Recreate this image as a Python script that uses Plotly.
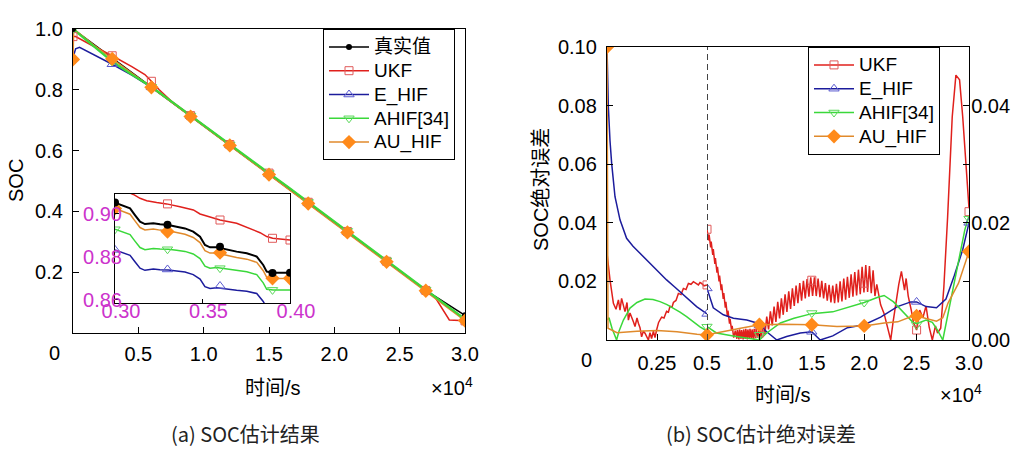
import plotly.graph_objects as go

# ---------------- data (time in units of 1e4 s) ----------------
# (a) SOC estimation results
T_MAIN = [0, 0.15, 0.3, 0.45, 0.6, 0.75, 0.9, 1.05, 1.2, 1.35, 1.5, 1.65, 1.8, 1.95, 2.1, 2.25, 2.4, 2.55, 2.7, 2.85, 3.0]
TRUE_SOC = [1.0, 0.952, 0.905, 0.858, 0.810, 0.762, 0.713, 0.666, 0.618, 0.570, 0.522, 0.475, 0.427, 0.380, 0.332, 0.284, 0.235, 0.188, 0.140, 0.099, 0.058]
AHIF_SOC = [1.0, 0.945, 0.893, 0.850, 0.810, 0.763, 0.715, 0.668, 0.620, 0.573, 0.526, 0.479, 0.431, 0.384, 0.336, 0.288, 0.239, 0.191, 0.142, 0.094, 0.046]
T_UKF = [0, 0.02, 0.15, 0.3, 0.45, 0.55, 0.6, 0.66, 0.75, 0.9, 1.05, 1.2, 1.35, 1.5, 1.65, 1.8, 1.95, 2.1, 2.25, 2.4, 2.55, 2.7, 2.77, 2.88, 3.0]
UKF_SOC = [0.975, 0.975, 0.945, 0.912, 0.876, 0.850, 0.828, 0.800, 0.764, 0.715, 0.667, 0.620, 0.572, 0.526, 0.478, 0.430, 0.382, 0.334, 0.285, 0.236, 0.188, 0.140, 0.118, 0.043, 0.040]
T_EHIF = [0, 0.02, 0.05, 0.15, 0.3, 0.45, 0.6, 0.75, 0.9, 1.05, 1.2, 1.35, 1.5, 1.65, 1.8, 1.95, 2.1, 2.25, 2.4, 2.55, 2.7, 2.85, 3.0]
EHIF_SOC = [0.905, 0.935, 0.940, 0.918, 0.884, 0.848, 0.808, 0.761, 0.713, 0.666, 0.618, 0.570, 0.522, 0.475, 0.427, 0.380, 0.332, 0.284, 0.235, 0.188, 0.139, 0.092, 0.045]
T_AU = [0, 0.005, 0.02, 0.15, 0.3, 0.45, 0.6, 0.75, 0.9, 1.05, 1.2, 1.35, 1.5, 1.65, 1.8, 1.95, 2.1, 2.25, 2.4, 2.55, 2.7, 2.85, 3.0]
AU_SOC = [0.90, 0.99, 0.995, 0.950, 0.902, 0.856, 0.808, 0.760, 0.712, 0.665, 0.617, 0.569, 0.521, 0.474, 0.426, 0.379, 0.331, 0.283, 0.234, 0.187, 0.139, 0.090, 0.041]

T_MARK = [0, 0.3, 0.6, 0.9, 1.2, 1.5, 1.8, 2.1, 2.4, 2.7, 3.0]
TRUE_MARK = [1.0, 0.905, 0.810, 0.713, 0.618, 0.522, 0.427, 0.332, 0.235, 0.140, 0.058]
UKF_MARK = [0.975, 0.912, 0.828, 0.715, 0.620, 0.526, 0.430, 0.334, 0.236, 0.140, 0.040]
EHIF_MARK = [0.905, 0.884, 0.808, 0.713, 0.618, 0.522, 0.427, 0.332, 0.235, 0.139, 0.045]
AHIF_MARK = [1.0, 0.893, 0.810, 0.715, 0.620, 0.526, 0.431, 0.336, 0.239, 0.142, 0.046]
AU_MARK = [0.90, 0.902, 0.808, 0.712, 0.617, 0.521, 0.426, 0.331, 0.234, 0.139, 0.041]

# inset (0.30 - 0.40)
T_IN = [0.300, 0.3047, 0.3086, 0.3114, 0.3143, 0.3171, 0.3219, 0.3257, 0.3305, 0.3352, 0.340, 0.3447,
        0.3486, 0.3514, 0.3543, 0.3581, 0.3629, 0.3695, 0.3753, 0.381, 0.3847, 0.3867, 0.3905, 0.400]
TRUE_IN = [0.9053, 0.9037, 0.9026, 0.8995, 0.8964, 0.8953, 0.8957, 0.8952, 0.8949, 0.8941, 0.8933, 0.8918,
           0.8894, 0.8856, 0.8845, 0.8845, 0.8836, 0.8825, 0.8817, 0.8802, 0.8763, 0.8732, 0.8727, 0.8727]
AU_IN = [0.9026, 0.9010, 0.8999, 0.8968, 0.8937, 0.8926, 0.8930, 0.8925, 0.8922, 0.8914, 0.8906, 0.8891,
         0.8867, 0.8829, 0.8818, 0.8818, 0.8809, 0.8798, 0.8790, 0.8775, 0.8736, 0.8705, 0.8700, 0.8700]
AHIF_IN = [0.8929, 0.8914, 0.8904, 0.8874, 0.8844, 0.8834, 0.8840, 0.8837, 0.8836, 0.8831, 0.8826, 0.8814,
           0.8793, 0.8757, 0.8748, 0.8751, 0.8746, 0.8737, 0.8731, 0.8718, 0.8680, 0.8650, 0.8646, 0.8647]
EHIF_IN = [0.8833, 0.8818, 0.8808, 0.8778, 0.8748, 0.8738, 0.8744, 0.8741, 0.8740, 0.8735, 0.8730, 0.8718,
           0.8697, 0.8662, 0.8654, 0.8657, 0.8651, 0.8645, 0.8641, 0.8630, 0.8593, 0.8564, 0.8561, 0.8562]
T_UKF_IN = [0.300, 0.3105, 0.3143, 0.3181, 0.3238, 0.3295, 0.3371, 0.3448, 0.3486, 0.3543, 0.360, 0.3695,
            0.3771, 0.3829, 0.3867, 0.3901, 0.400]
UKF_IN = [0.9125, 0.9091, 0.9073, 0.9062, 0.9053, 0.9047, 0.9034, 0.9019, 0.9000, 0.8985, 0.8972, 0.8957,
          0.8933, 0.8913, 0.8895, 0.8887, 0.8879]
T_IN_MARK = [0.30, 0.33, 0.36, 0.39, 0.40]
TRUE_IN_MARK = [0.9053, 0.8950, 0.8848, 0.8725, 0.8727]
UKF_IN_MARK = [0.9125, 0.9047, 0.8972, 0.8887, 0.8879]
AU_IN_MARK = [0.9026, 0.8918, 0.8820, 0.8701, 0.8701]
AHIF_IN_MARK = [0.8929, 0.8836, 0.8748, 0.8647]
EHIF_IN_MARK = [0.8833, 0.8742, 0.8665]

# (b) absolute error, section 0 - 0.5 (left axis)
UKF_L_T = [0, 0.015, 0.032, 0.045, 0.057, 0.065, 0.073, 0.082, 0.09, 0.1, 0.107, 0.115, 0.123, 0.132, 0.14,
           0.15, 0.157, 0.165, 0.173, 0.182, 0.19, 0.2, 0.207, 0.215, 0.223, 0.232, 0.24, 0.248, 0.258, 0.273,
           0.285, 0.298, 0.307, 0.315, 0.325, 0.332, 0.345, 0.357, 0.37, 0.382, 0.395, 0.407, 0.42, 0.432,
           0.445, 0.457, 0.465, 0.473, 0.485, 0.5]
UKF_L = [0.0296, 0.0205, 0.0125, 0.0105, 0.0137, 0.0102, 0.0142, 0.0118, 0.0097, 0.0128, 0.0068, 0.0092, 0.0080,
         0.0062, 0.0046, 0.0075, 0.0057, 0.0042, 0.0011, 0.0030, 0.0023, 0.0008, 0.0000, 0.0025, 0.0005, 0.0030,
         0.0008, 0.0034, 0.0060, 0.0078, 0.0075, 0.0098, 0.0095, 0.0115, 0.0112, 0.0128, 0.0135, 0.0159, 0.0155,
         0.0176, 0.0172, 0.0193, 0.0190, 0.0199, 0.0192, 0.0188, 0.0196, 0.0193, 0.0185, 0.0188]
EHIF_L_T = [0, 0.003, 0.0067, 0.015, 0.0233, 0.04, 0.065, 0.098, 0.13, 0.165, 0.2, 0.232, 0.265, 0.298, 0.34,
            0.382, 0.415, 0.448, 0.475, 0.5]
EHIF_L = [0.1, 0.092, 0.0796, 0.068, 0.0603, 0.0489, 0.041, 0.0347, 0.032, 0.0296, 0.0272, 0.025, 0.0228, 0.0205,
          0.018, 0.0154, 0.0134, 0.0114, 0.0101, 0.0089]
AHIF_L_T = [0, 0.01, 0.025, 0.04, 0.048, 0.06, 0.082, 0.1, 0.115, 0.15, 0.19, 0.23, 0.265, 0.3, 0.332, 0.365,
            0.398, 0.43, 0.465, 0.5]
AHIF_L = [0.0068, 0.0076, 0.0040, 0.0010, 0.0000, 0.0030, 0.0068, 0.0090, 0.0109, 0.0128, 0.0140, 0.0138, 0.0131,
          0.0121, 0.0109, 0.0095, 0.0080, 0.0062, 0.0045, 0.0030]
AU_L_T = [0, 0.002, 0.005, 0.05, 0.15, 0.25, 0.35, 0.45, 0.5]
AU_L = [0.1, 0.05, 0.004, 0.0025, 0.003, 0.0032, 0.0028, 0.002, 0.0017]
UKF_LM_T, UKF_LM = [0.5], [0.0188]
EHIF_LM_T, EHIF_LM = [0.5], [0.0089]
AHIF_LM_T, AHIF_LM = [0.5], [0.0045]
AU_LM_T, AU_LM = [0, 0.5], [0.1, 0.0017]

# (b) section 0.5 - 3.0 (right axis)
UKF_R_T = [0.500, 0.515, 0.520, 0.535, 0.540, 0.555, 0.560, 0.575, 0.580, 0.595, 0.600, 0.615, 0.620, 0.635,
           0.640, 0.655, 0.660, 0.675, 0.680, 0.695, 0.700, 0.715, 0.720, 0.735, 0.740, 0.755,
           0.770, 0.785, 0.790, 0.805, 0.810, 0.825, 0.830, 0.845, 0.850, 0.865, 0.870, 0.885, 0.890, 0.905,
           0.910, 0.925, 0.930, 0.945, 0.950, 0.965, 0.970, 0.985,
           1.000, 1.0175, 1.035, 1.0525, 1.070, 1.0875, 1.105, 1.1225, 1.140, 1.1575, 1.175, 1.1925, 1.210,
           1.2275, 1.245, 1.2625, 1.280, 1.2975, 1.315, 1.3325, 1.350, 1.3675, 1.385, 1.4025, 1.420, 1.4375,
           1.455, 1.4725, 1.490, 1.5075, 1.525, 1.5425, 1.560, 1.5775, 1.595, 1.6125, 1.630, 1.6475, 1.665,
           1.6825, 1.700, 1.7175, 1.735, 1.7525, 1.770, 1.7875, 1.805, 1.8225, 1.840, 1.8575, 1.875, 1.8925,
           1.910, 1.9275, 1.945, 1.9625, 1.980, 1.9975, 2.015, 2.0325, 2.050, 2.0675, 2.085, 2.1025, 2.120,
           2.157, 2.190, 2.220, 2.253, 2.275, 2.300, 2.330, 2.355, 2.370, 2.385, 2.400, 2.420, 2.450, 2.470,
           2.500, 2.530, 2.560, 2.590, 2.620, 2.650, 2.680, 2.700, 2.730, 2.760, 2.796, 2.840, 2.875, 2.910,
           2.940, 2.975, 3.000]
UKF_R = [0.0189, 0.0170, 0.0180, 0.0158, 0.0168, 0.0145, 0.0155, 0.0130, 0.0140, 0.0115, 0.0125, 0.0100, 0.0110,
         0.0085, 0.0095, 0.0070, 0.0080, 0.0055, 0.0065, 0.0040, 0.0050, 0.0028, 0.0036, 0.0016, 0.0024, 0.0004,
         0.0016, 0.0002, 0.0017, 0.0001, 0.0018, 0.0002, 0.0017, 0.0001, 0.0018, 0.0002, 0.0019, 0.0001, 0.0018,
         0.0002, 0.0019, 0.0002, 0.0018, 0.0001, 0.0019, 0.0003, 0.0020, 0.0004,
         0.0021, 0.0003, 0.0030, 0.0010, 0.0040, 0.0018, 0.0049, 0.0025, 0.0057, 0.0031, 0.0065, 0.0037, 0.0071,
         0.0043, 0.0078, 0.0048, 0.0083, 0.0053, 0.0088, 0.0058, 0.0093, 0.0063, 0.0097, 0.0067, 0.0101, 0.0071,
         0.0104, 0.0074, 0.0107, 0.0075, 0.0107, 0.0075, 0.0105, 0.0073, 0.0101, 0.0071, 0.0097, 0.0067, 0.0094,
         0.0064, 0.0093, 0.0063, 0.0096, 0.0064, 0.0100, 0.0066, 0.0105, 0.0069, 0.0108, 0.0072, 0.0112, 0.0074,
         0.0116, 0.0076, 0.0120, 0.0078, 0.0125, 0.0081, 0.0128, 0.0082, 0.0126, 0.0080, 0.0119, 0.0075, 0.0095,
         0.0060, 0.0045, 0.0022, 0.0000, 0.0030, 0.0063, 0.0095, 0.0117, 0.0098, 0.0085, 0.0105, 0.0075, 0.0050,
         0.0030, 0.0017, 0.0051, 0.0038, 0.0058, 0.0022, 0.0000, 0.0024, 0.0012, 0.0020, 0.0090, 0.0210, 0.0381,
         0.0452, 0.0444, 0.0381, 0.0296, 0.0225]
EHIF_R_T = [0.5, 0.56, 0.656, 0.752, 0.88, 0.976, 1.07, 1.166, 1.26, 1.39, 1.5, 1.58, 1.7, 1.84, 2.0, 2.157,
            2.317, 2.445, 2.5, 2.59, 2.69, 2.78, 2.86, 2.94, 3.0]
EHIF_R = [0.0088, 0.0055, 0.0043, 0.0037, 0.0034, 0.0029, 0.0014, 0.0000, 0.0006, 0.0012, 0.0014, 0.0000, 0.0007,
          0.0021, 0.0026, 0.0039, 0.0057, 0.0065, 0.0065, 0.0057, 0.0055, 0.0070, 0.0110, 0.0154, 0.0200]
AHIF_R_T = [0.5, 0.59, 0.75, 0.88, 1.0, 1.07, 1.2, 1.33, 1.5, 1.7, 1.84, 2.0, 2.13, 2.19, 2.28, 2.38, 2.46, 2.5,
            2.59, 2.65, 2.7, 2.75, 2.82, 2.9, 2.96, 3.0]
AHIF_R = [0.0023, 0.0012, 0.0007, 0.0003, 0.0000, 0.0012, 0.0029, 0.0037, 0.0045, 0.0048, 0.0055, 0.0064, 0.0073,
          0.0076, 0.0065, 0.0046, 0.0031, 0.0028, 0.0034, 0.0030, 0.0017, 0.0000, 0.0063, 0.0137, 0.0188, 0.0212]
AU_R_T = [0.5, 0.63, 0.82, 1.0, 1.22, 1.5, 1.74, 2.0, 2.19, 2.32, 2.45, 2.5, 2.59, 2.69, 2.75, 2.8, 2.9, 2.96, 3.0]
AU_R = [0.0009, 0.0014, 0.0020, 0.0026, 0.0027, 0.0026, 0.0023, 0.0024, 0.0029, 0.0031, 0.0040, 0.0041, 0.0037,
        0.0032, 0.0038, 0.0063, 0.0097, 0.0131, 0.0151]
T_R_MARK = [0.5, 1.0, 1.5, 2.0, 2.5, 3.0]
UKF_RM = [0.0189, 0.0012, 0.0102, 0.0097, 0.0017, 0.0219]
EHIF_RM = [0.0088, 0.0025, 0.0014, 0.0026, 0.0065, 0.0200]
AHIF_RM = [0.0023, 0.0009, 0.0046, 0.0064, 0.0026, 0.0207]
AU_RM = [0.0009, 0.0026, 0.0026, 0.0024, 0.0041, 0.0151]
BREAK_T = 0.5

# tick labels
MAIN_X_TICKS = [0.5, 1.0, 1.5, 2.0, 2.5, 3.0]
MAIN_Y_TICKS = [0.2, 0.4, 0.6, 0.8, 1.0]
IN_X_TICKS = [0.30, 0.35, 0.40]
IN_Y_TICKS = [0.86, 0.88, 0.90]
ERR_L_X_TICKS = [0.25, 0.5]
ERR_R_X_TICKS = [1.0, 1.5, 2.0, 2.5, 3.0]
ERR_L_Y_TICKS = [0.02, 0.04, 0.06, 0.08, 0.10]
ERR_R_Y_TICKS = [0.00, 0.02, 0.04]

NAMES = ["真实值", "UKF", "E_HIF", "AHIF[34]", "AU_HIF"]

# ---------------- styling ----------------
W, H = 1025, 465
FONT = "Arial, 'Liberation Sans', 'Noto Sans CJK SC', sans-serif"
CAP_FONT = "'Liberation Sans Narrow', 'Arial Narrow', 'Noto Sans CJK SC', sans-serif"
MAG = "#cc33cc"
C = {
    "true": dict(line="black", mk=dict(symbol="circle", size=6, color="black")),
    "ukf": dict(line="#e0201c", mk=dict(symbol="square-open", size=8, color="#e05a5a", line=dict(width=1))),
    "ehif": dict(line="#1c1c9c", mk=dict(symbol="triangle-up-open", size=9, color="#5a5ad0", line=dict(width=1))),
    "ahif": dict(line="#3ad83a", mk=dict(symbol="triangle-down-open", size=9, color="#5ad85a", line=dict(width=1))),
    "au": dict(line="#e08a2c", mk=dict(symbol="diamond", size=11, color="#ff8a1a")),
}


def X(p):
    return p / W


def Y(p):
    return 1 - p / H


fig = go.Figure()


def line(x, y, key, xa, ya, width=1.5):
    fig.add_trace(go.Scatter(x=x, y=y, mode="lines", line=dict(color=C[key]["line"], width=width),
                             xaxis=xa, yaxis=ya, showlegend=False, hoverinfo="skip"))


def marks(x, y, key, xa, ya, size=None):
    mk = dict(C[key]["mk"])
    if size:
        mk["size"] = size
    fig.add_trace(go.Scatter(x=x, y=y, mode="markers", marker=mk, xaxis=xa, yaxis=ya,
                             showlegend=False, hoverinfo="skip", cliponaxis=True))


def legend_item(name, key, xa, ya, legend):
    fig.add_trace(go.Scatter(x=[None], y=[None], mode="lines+markers",
                             name=f"<span style='font-size:19px'>{name}</span>",
                             line=dict(color=C[key]["line"], width=1.5), marker=C[key]["mk"],
                             xaxis=xa, yaxis=ya, legend=legend))


# (a) main
line(T_MAIN, TRUE_SOC, "true", "x", "y")
line(T_UKF, UKF_SOC, "ukf", "x", "y")
line(T_EHIF, EHIF_SOC, "ehif", "x", "y")
line(T_AU, AU_SOC, "au", "x", "y")
line(T_MAIN, AHIF_SOC, "ahif", "x", "y", width=2.2)
marks(T_MARK, UKF_MARK, "ukf", "x", "y")
marks(T_MARK, EHIF_MARK, "ehif", "x", "y")
marks(T_MARK, AHIF_MARK, "ahif", "x", "y")
marks(T_MARK, TRUE_MARK, "true", "x", "y")
marks(T_MARK, AU_MARK, "au", "x", "y")

# (a) inset
line(T_UKF_IN, UKF_IN, "ukf", "x5", "y5")
line(T_IN, EHIF_IN, "ehif", "x5", "y5")
line(T_IN, AHIF_IN, "ahif", "x5", "y5")
line(T_IN, AU_IN, "au", "x5", "y5")
line(T_IN, TRUE_IN, "true", "x5", "y5", width=2)
marks(T_IN_MARK, UKF_IN_MARK, "ukf", "x5", "y5")
marks(T_IN_MARK[:len(EHIF_IN_MARK)], EHIF_IN_MARK, "ehif", "x5", "y5")
marks(T_IN_MARK[:len(AHIF_IN_MARK)], AHIF_IN_MARK, "ahif", "x5", "y5")
marks(T_IN_MARK, AU_IN_MARK, "au", "x5", "y5")
marks(T_IN_MARK, TRUE_IN_MARK, "true", "x5", "y5", size=8)

# (b) left section
line(UKF_L_T, UKF_L, "ukf", "x3", "y3")
line(EHIF_L_T, EHIF_L, "ehif", "x3", "y3")
line(AHIF_L_T, AHIF_L, "ahif", "x3", "y3")
line(AU_L_T, AU_L, "au", "x3", "y3")
marks(UKF_LM_T, UKF_LM, "ukf", "x3", "y3")
marks(EHIF_LM_T, EHIF_LM, "ehif", "x3", "y3")
marks(AHIF_LM_T, AHIF_LM, "ahif", "x3", "y3")
marks(AU_LM_T, AU_LM, "au", "x3", "y3")

# (b) right section
line(UKF_R_T, UKF_R, "ukf", "x4", "y4")
line(EHIF_R_T, EHIF_R, "ehif", "x4", "y4")
line(AHIF_R_T, AHIF_R, "ahif", "x4", "y4")
line(AU_R_T, AU_R, "au", "x4", "y4")
marks(T_R_MARK, UKF_RM, "ukf", "x4", "y4")
marks(T_R_MARK, EHIF_RM, "ehif", "x4", "y4")
marks(T_R_MARK, AHIF_RM, "ahif", "x4", "y4")
marks(T_R_MARK, AU_RM, "au", "x4", "y4")

# legends
for name, key in zip(NAMES, ["true", "ukf", "ehif", "ahif", "au"]):
    legend_item(name, key, "x", "y", "legend")
for name, key in zip(NAMES[1:], ["ukf", "ehif", "ahif", "au"]):
    legend_item(name, key, "x4", "y4", "legend2")

# dashed break line
fig.add_shape(type="line", xref="x4", yref="y4 domain", x0=BREAK_T, x1=BREAK_T, y0=0, y1=1,
              line=dict(color="#444444", width=2, dash="6px,4px"))

ax_common = dict(showgrid=False, zeroline=False, showline=True, linecolor="black", linewidth=1.3,
                 ticks="inside", tickcolor="black", ticklen=6, tickwidth=1.2, automargin=False,
                 tickfont=dict(family=FONT, size=20, color="black"))


def fmt(v, d):
    return f"{v:.{d}f}"


fig.update_layout(
    width=W, height=H, margin=dict(l=0, r=0, t=0, b=0, pad=0), autosize=False,
    paper_bgcolor="white", plot_bgcolor="white",
    font=dict(family=FONT, size=20, color="black"),
    xaxis=dict(ax_common, domain=[X(73), X(465)], range=[0, 3.0], anchor="y", mirror=True,
               tickvals=MAIN_X_TICKS, ticktext=[fmt(v, 1) for v in MAIN_X_TICKS], ticklabelstandoff=3),
    yaxis=dict(ax_common, domain=[Y(333), Y(29)], range=[0, 1.0], anchor="x", mirror=True,
               tickvals=MAIN_Y_TICKS, ticktext=[fmt(v, 1) for v in MAIN_Y_TICKS], ticklabelstandoff=5),
    xaxis5=dict(ax_common, domain=[X(115), X(290)], range=[0.30, 0.40], anchor="y5", mirror=True,
                linewidth=1, ticklen=4, tickvals=IN_X_TICKS, ticktext=[fmt(v, 2) for v in IN_X_TICKS],
                tickfont=dict(family=FONT, size=20, color=MAG), ticklabelshift=6, ticklabelstandoff=-10),
    yaxis5=dict(ax_common, domain=[Y(303), Y(194)], range=[0.8586, 0.9093], anchor="x5", mirror=True,
                linewidth=1, ticklen=4, tickvals=IN_Y_TICKS, ticktext=[fmt(v, 2) for v in IN_Y_TICKS],
                tickfont=dict(family=FONT, size=20, color=MAG), ticklabelstandoff=-12),
    xaxis3=dict(ax_common, domain=[X(607), X(707)], range=[0, 0.5], anchor="y3", mirror=True,
                tickvals=ERR_L_X_TICKS, ticktext=["0.25", "0.5"], ticklabelstandoff=5),
    yaxis3=dict(ax_common, domain=[Y(340), Y(47)], range=[0, 0.1], anchor="x3", side="left",
                tickvals=ERR_L_Y_TICKS, ticktext=[fmt(v, 2) for v in ERR_L_Y_TICKS], ticklabelstandoff=5),
    xaxis4=dict(ax_common, domain=[X(707), X(969)], range=[0.5, 3.0], anchor="y4", mirror=True,
                tickvals=ERR_R_X_TICKS, ticktext=[fmt(v, 1) for v in ERR_R_X_TICKS], ticklabelstandoff=5),
    yaxis4=dict(ax_common, domain=[Y(340), Y(47)], range=[0, 0.05], anchor="x4", side="right",
                tickvals=ERR_R_Y_TICKS, ticktext=[fmt(v, 2) for v in ERR_R_Y_TICKS], ticklabelstandoff=-3,
                minor=dict(dtick=0.01, ticks="inside", ticklen=6, tickcolor="black")),
    legend=dict(x=X(323), y=Y(29), xanchor="left", yanchor="top", bordercolor="black", borderwidth=1,
                bgcolor="white", font=dict(family=FONT, size=16), tracegroupgap=0, itemwidth=40),
    legend2=dict(x=X(808), y=Y(47), xanchor="left", yanchor="top", bordercolor="black", borderwidth=1,
                 bgcolor="white", font=dict(family=FONT, size=16), tracegroupgap=0, itemwidth=40),
    showlegend=True,
)

ann = [
    dict(text="0", x=X(54), y=Y(353)),
    dict(text="0", x=X(586), y=Y(360)),
    dict(text="时间/s", x=X(273), y=Y(388)),
    dict(text="时间/s", x=X(783), y=Y(395)),
    dict(text="×10<sup>4</sup>", x=X(452), y=Y(386)),
    dict(text="×10<sup>4</sup>", x=X(961), y=Y(393)),
    dict(text="SOC", x=X(16), y=Y(181), textangle=-90),
    dict(text="SOC绝对误差", x=X(541), y=Y(190), textangle=-90),
]
for a in ann:
    fig.add_annotation(xref="paper", yref="paper", showarrow=False, xanchor="center", yanchor="middle",
                       font=dict(family=FONT, size=20, color="black"), **a)
for text, xc in [("(a) SOC估计结果", 245), ("(b) SOC估计绝对误差", 761)]:
    fig.add_annotation(xref="paper", yref="paper", showarrow=False, xanchor="center", yanchor="middle",
                       x=X(xc), y=Y(433), text=text, font=dict(family=CAP_FONT, size=20, color="#222222"))

fig.write_html("out.html", config={"displayModeBar": False},
               post_script="document.body.style.margin='0px';document.body.style.padding='0px';")
